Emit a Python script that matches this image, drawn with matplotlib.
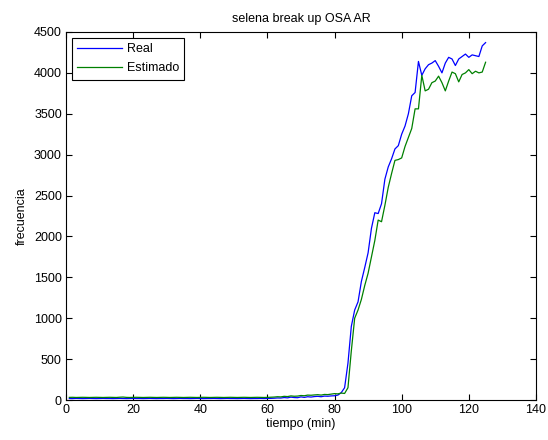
import matplotlib
matplotlib.use("Agg")
import matplotlib.pyplot as plt

plt.rcParams['font.family'] = ['Liberation Sans', 'DejaVu Sans']

tiempo = list(range(1, 126))

real = [
    18, 17, 19, 18, 17, 18, 19, 18, 17, 18,
    19, 18, 18, 17, 18, 19, 18, 17, 18, 19,
    18, 18, 17, 18, 19, 18, 17, 18, 18, 19,
    18, 17, 18, 19, 18, 18, 17, 18, 19, 18,
    17, 18, 18, 19, 18, 17, 18, 19, 18, 18,
    17, 18, 19, 18, 17, 18, 18, 19, 18, 19,
    20, 22, 25, 24, 30, 26, 35, 30, 28, 38,
    32, 40, 36, 42, 45, 40, 48, 46, 50, 52,
    60, 90, 150, 450, 900, 1100, 1200, 1450, 1620, 1800,
    2100, 2290, 2280, 2400, 2700, 2850, 2950, 3070, 3110, 3250,
    3350, 3500, 3720, 3760, 4140, 3970, 4050, 4100, 4120, 4150,
    4080, 4000, 4120, 4190, 4170, 4090, 4170, 4200, 4230, 4190,
    4220, 4210, 4200, 4330, 4370,
]

estimado = [
    32, 33, 31, 32, 33, 32, 31, 32, 33, 32,
    31, 32, 33, 32, 31, 34, 36, 32, 31, 32,
    33, 32, 31, 32, 33, 32, 31, 32, 33, 32,
    31, 32, 33, 32, 31, 32, 33, 32, 31, 32,
    33, 32, 31, 32, 33, 32, 31, 32, 33, 32,
    31, 32, 33, 32, 31, 32, 33, 32, 31, 32,
    34, 36, 40, 38, 45, 42, 50, 46, 48, 55,
    52, 60, 58, 62, 65, 60, 68, 66, 72, 78,
    75, 85, 80, 150, 600, 1000, 1100, 1230, 1400, 1550,
    1750, 1950, 2200, 2180, 2380, 2600, 2770, 2930, 2940, 2960,
    3100, 3210, 3320, 3560, 3560, 3970, 3780, 3800, 3880, 3900,
    3960, 3880, 3780, 3900, 4010, 3990, 3890, 3980, 4000, 4040,
    3990, 4020, 4000, 4010, 4130,
]

xticks = [0, 20, 40, 60, 80, 100, 120, 140]
yticks = [0, 500, 1000, 1500, 2000, 2500, 3000, 3500, 4000, 4500]

fs = 9
fig = plt.figure(figsize=(5.48, 4.40), dpi=100)
ax = fig.add_axes([0.1204, 0.0909, 0.8576, 0.8364])
ax.plot(tiempo, real, color='#0000ff', linewidth=0.9, label='Real')
ax.plot(tiempo, estimado, color='#008000', linewidth=0.9, label='Estimado')
ax.set_xlim(0, 140)
ax.set_ylim(0, 4500)
ax.set_xticks(xticks)
ax.set_yticks(yticks)
ax.tick_params(direction='in', top=True, right=True, labelsize=fs, length=4, pad=3)
ax.set_xlabel('tiempo (min)', fontsize=fs, labelpad=1)
ax.set_ylabel('frecuencia', fontsize=fs, labelpad=4)
ax.set_title('selena break up OSA AR', fontsize=fs, pad=7)
leg = ax.legend(loc='upper left', fontsize=fs, frameon=True, fancybox=False,
                edgecolor='black', framealpha=1, handlelength=3.6,
                handletextpad=0.35, borderaxespad=0.45, labelspacing=0.55,
                borderpad=0.45)
leg.get_frame().set_linewidth(0.8)
for s in ax.spines.values():
    s.set_linewidth(0.8)
fig.savefig('out.png', dpi=100)
